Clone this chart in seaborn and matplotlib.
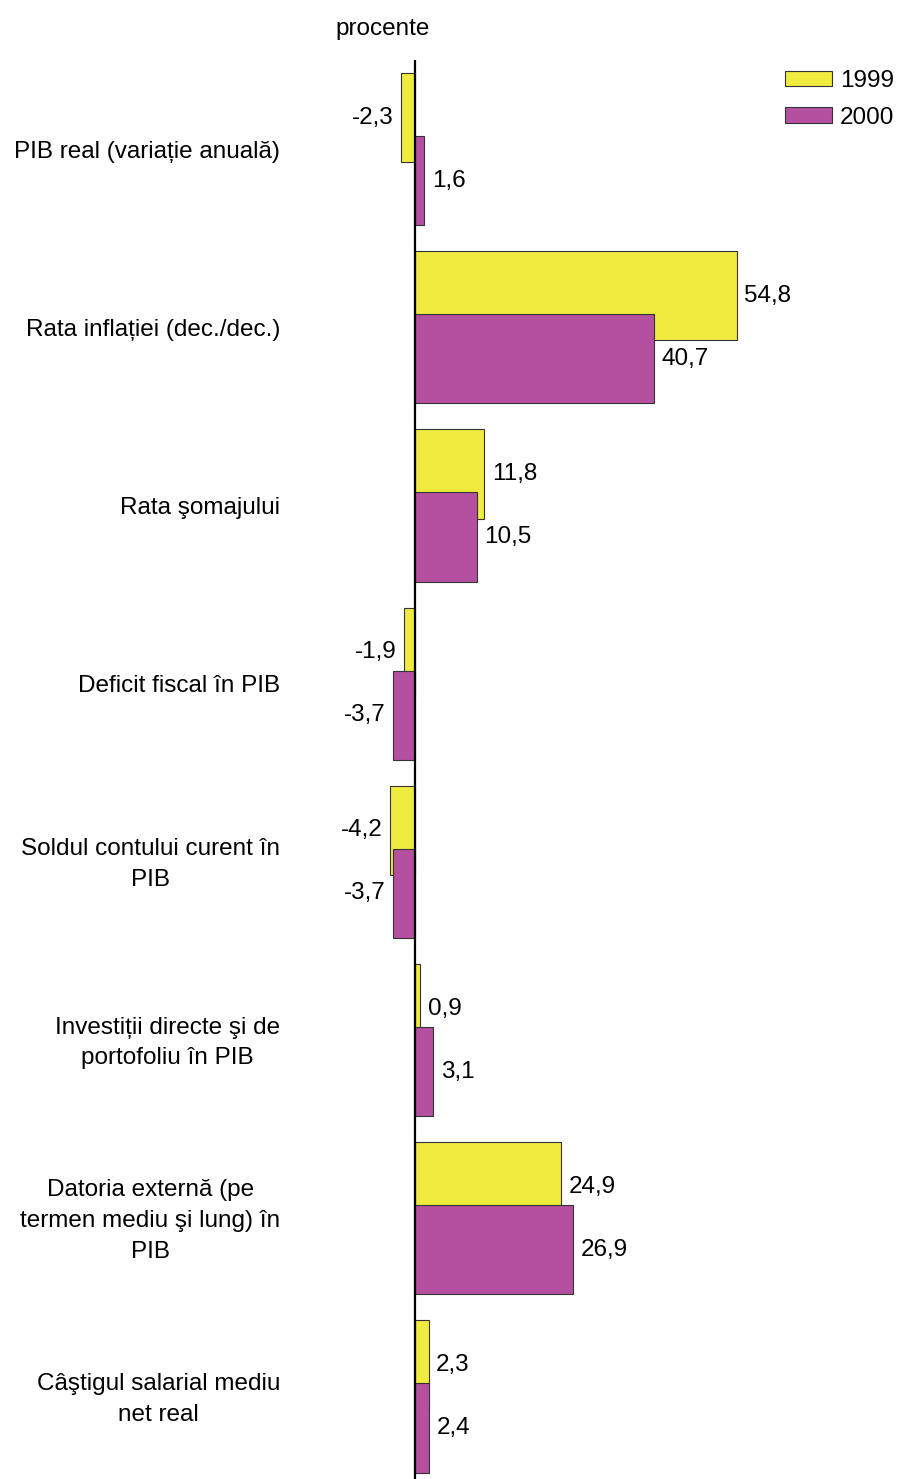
import numpy as np
import matplotlib
matplotlib.use("Agg")
import matplotlib.pyplot as plt
import matplotlib.transforms as mtransforms
import seaborn as sns

# date
categorii = [
    "PIB real (variație anuală)",
    "Rata inflației (dec./dec.)",
    "Rata şomajului",
    "Deficit fiscal în PIB",
    "Soldul contului curent în\nPIB",
    "Investiții directe şi de\nportofoliu în PIB",
    "Datoria externă (pe\ntermen mediu şi lung) în\nPIB",
    "Câştigul salarial mediu\nnet real",
]
val_1999 = [-2.3, 54.8, 11.8, -1.9, -4.2, 0.9, 24.9, 2.3]
val_2000 = [1.6, 40.7, 10.5, -3.7, -3.7, 3.1, 26.9, 2.4]

GALBEN = "#efeb3f"
MOV = "#b4509f"
FS = 17.5

sns.set_style("white")
plt.rcParams["font.family"] = ["Liberation Sans", "DejaVu Sans"]
plt.rcParams["text.color"] = "black"
plt.rcParams["ytick.color"] = "black"

fig = plt.figure(figsize=(8.98, 14.79), dpi=100)
ax = fig.add_axes([290 / 898, 0.0, 590 / 898, 1 - 60 / 1479])

poz = np.arange(len(categorii))
off = 0.177

sns.barplot(x=val_1999, y=poz - off, orient="y", native_scale=True, width=0.5,
            color=GALBEN, edgecolor="#333333", linewidth=0.8, saturation=1,
            errorbar=None, ax=ax, label="1999")
sns.barplot(x=val_2000, y=poz + off, orient="y", native_scale=True, width=0.5,
            color=MOV, edgecolor="#333333", linewidth=0.8, saturation=1,
            errorbar=None, ax=ax, label="2000")

fmt = lambda v: f"{v:.1f}".replace(".", ",")
for cont, vals in zip(ax.containers, [val_1999, val_2000]):
    ax.bar_label(cont, labels=[fmt(v) for v in vals], padding=5.5, fontsize=FS,
                 color="black")

ax.set_xlim(-21.29, 79.2)
ax.set_ylim(7.463, -0.5)
ax.set_yticks(poz)
ax.set_yticklabels(categorii, fontsize=FS, ha="right", multialignment="center",
                   linespacing=1.52, color="black")
ax.tick_params(axis="y", length=0, pad=7)
# etichetele pe mai multe rânduri ies puțin mai jos, le ridicăm ușor
sus = mtransforms.ScaledTranslation(0, 0.04, fig.dpi_scale_trans)
for lbl in ax.get_yticklabels():
    if "\n" in lbl.get_text():
        lbl.set_transform(lbl.get_transform() + sus)
ax.set_xticks([])
ax.set_xlabel("")
ax.set_ylabel("")
for s in ax.spines.values():
    s.set_visible(False)
ax.axvline(0, color="black", linewidth=1.6, zorder=5)

fig.text(383 / 898, 1 - 29 / 1479, "procente", ha="center", va="center", fontsize=FS)

ax.legend(loc="upper left", bbox_to_anchor=(785 / 898, 1 - 70 / 1479),
          bbox_transform=fig.transFigure, frameon=False, fontsize=FS,
          handlelength=1.93, handleheight=0.58, handletextpad=0.33,
          labelspacing=0.6, borderpad=0, borderaxespad=0)

fig.savefig("out.png", dpi=100)
